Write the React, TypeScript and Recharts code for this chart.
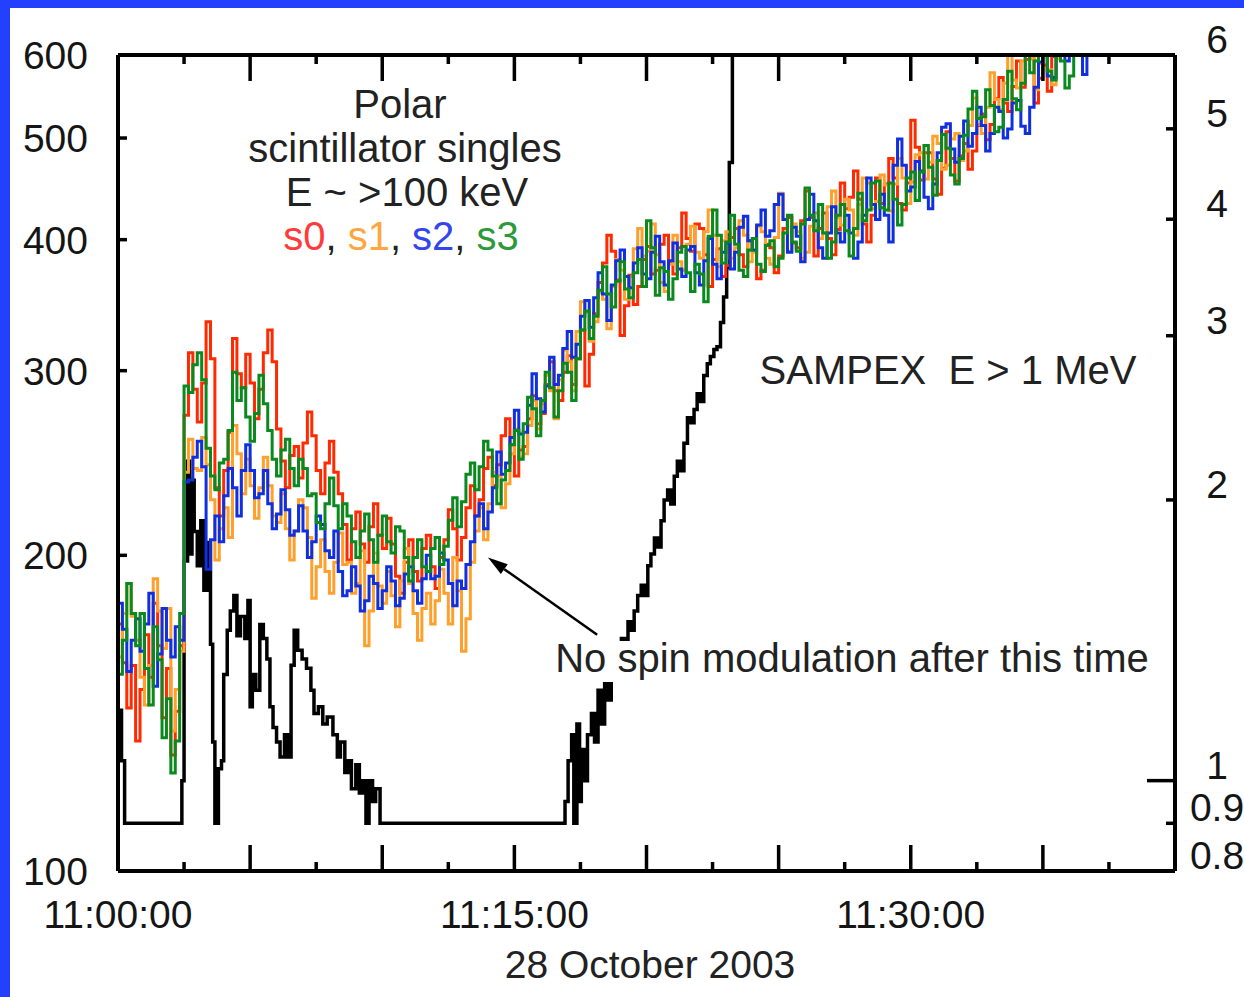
import { ComposedChart, Line, XAxis, YAxis, ReferenceLine } from "recharts";

const FONT = "'Liberation Sans', Arial, Helvetica, sans-serif";
const BLUE_FRAME = "#2440ff";

// Polar scintillator singles (counts), one sample every 10 s from 11:00:00
const POLAR_STEP_S = 10;

const s0 = [
  172, 158, 143, 157, 133, 149, 168, 153, 180, 164, 140, 156, 129, 142, 164, 272,
  312, 288, 268, 292, 334, 308, 232, 218, 241, 262, 322, 298, 289, 311, 292, 270, 288, 312,
  328, 306, 264, 246, 232, 249, 254, 237, 256, 274, 260, 241, 229, 245, 257, 240, 229, 214,
  198, 212, 220, 205, 197, 213, 224, 209, 203, 217, 205, 191, 184, 197, 207, 193, 189, 203,
  209, 195, 186, 199, 207, 221, 212, 198, 208, 222, 233, 218, 226, 242, 248, 233, 244, 260,
  270, 255, 238, 252,
  254, 270, 284, 267, 273, 291, 306, 287, 281, 299, 310, 291, 308, 328, 290, 311, 340, 364,
  380, 404, 390, 366, 324, 346, 370, 347, 361, 383, 394, 371, 374, 396, 404, 381, 371, 393,
  424, 401, 390, 414, 410, 387, 361, 383, 392, 369, 378, 402, 410, 387, 377, 399, 390, 367,
  374, 396,
  393, 372, 386, 410, 420, 397, 393, 417, 445, 420, 386, 410, 424, 401, 387, 409, 453, 428,
  439, 465, 437, 414, 398, 422, 458, 433, 452, 478, 458, 433, 427, 453, 520, 490, 456, 484,
  484, 457, 442, 468, 507, 478, 455, 481, 494, 467, 486, 514,
  527, 498, 515, 545, 571, 540, 530, 560, 592, 559, 594, 627, 540, 570, 587, 554, 598, 632,
  648, 613, 622, 658, 668, 633, 640,
];

const s1 = [
  160, 176, 188, 175, 166, 153, 144, 157, 190, 177, 163, 178, 136, 149, 162, 240,
  258, 242, 241, 259, 244, 226, 198, 212, 222, 208, 266, 250, 229, 247, 233, 217, 232, 248,
  233, 218, 215, 229, 212, 198, 211, 226, 222, 208, 182, 195, 207, 193, 184, 197, 210, 196,
  197, 184, 188, 202, 164, 177, 201, 187, 180, 193, 183, 171, 189, 203, 188, 176, 166, 178,
  184, 172, 181, 194, 184, 172, 199, 185, 162, 174, 197, 211, 222, 207, 224, 240, 238, 222,
  234, 250, 264, 248,
  250, 266, 281, 264, 279, 297, 287, 270, 294, 314, 306, 287, 327, 349, 341, 320, 334, 356,
  351, 329, 361, 383, 374, 351, 369, 392, 410, 386, 390, 414, 387, 364, 357, 379, 404, 381,
  374, 396, 412, 389, 384, 407, 427, 404, 377, 399, 407, 384, 393, 417, 404, 381, 389, 412,
  407, 384,
  379, 402, 443, 418, 390, 414, 407, 384, 389, 412, 424, 401, 406, 430, 445, 420, 413, 437,
  427, 404, 432, 458, 453, 428, 435, 461, 451, 426, 452, 478, 458, 433, 454, 482, 484, 457,
  474, 502, 494, 467, 471, 499, 505, 476, 486, 514, 546, 515,
  505, 535, 577, 544, 532, 564, 603, 568, 558, 592, 630, 595, 556, 589, 615, 581, 562, 595,
  638, 602, 622, 658, 648, 613, 640,
];

const s2 = [
  180, 170, 155, 166, 174, 162, 172, 184, 150, 161, 178, 166, 160, 171, 166, 235,
  236, 248, 257, 243, 194, 207, 218, 206, 228, 242, 232, 218, 241, 255, 241, 227, 229, 241,
  224, 212, 219, 231, 221, 209, 211, 223, 211, 199, 206, 218, 214, 202, 199, 211, 193, 183,
  185, 195, 187, 177, 181, 191, 188, 178, 185, 195, 189, 179, 182, 192, 195, 185, 180, 190,
  200, 190, 191, 201, 198, 188, 179, 189, 186, 196, 206, 218, 224, 212, 220, 232, 251, 239,
  245, 259, 275, 261,
  262, 278, 298, 282, 274, 290, 309, 291, 297, 315, 327, 309, 318, 338, 350, 330, 352, 372,
  355, 335, 362, 382, 391, 369, 360, 380, 393, 371, 367, 389, 403, 381, 362, 382, 397, 375,
  369, 391, 394, 372, 362, 382, 401, 379, 367, 389, 397, 375, 389, 411, 421, 399, 391, 413,
  427, 403,
  408, 432, 442, 418, 389, 411, 403, 381, 418, 442, 417, 393, 384, 406, 430, 406, 398, 422,
  406, 384, 398, 422, 458, 432, 418, 442, 422, 398, 471, 499, 471, 445, 449, 475, 465, 439,
  428, 452, 484, 512, 516, 488, 474, 502, 519, 491, 505, 535,
  514, 486, 505, 535, 530, 500, 510, 540, 543, 513, 505, 535, 559, 591, 607, 573, 571, 605,
  628, 592, 602, 638, 609, 575, 605,
];

const s3 = [
  154, 166, 188, 176, 164, 176, 156, 144, 171, 159, 134, 146, 124, 133, 176, 290,
  286, 304, 312, 294, 253, 238, 231, 245, 247, 263, 299, 281, 289, 271, 257, 273, 297, 279,
  263, 247, 238, 252, 258, 242, 233, 247, 242, 228, 229, 215, 212, 224, 237, 223, 212, 224,
  218, 206, 199, 211, 219, 207, 197, 209, 218, 206, 201, 213, 211, 199, 189, 199, 207, 195,
  193, 203, 208, 196, 204, 216, 227, 213, 225, 239, 245, 231, 243, 257, 252, 238, 224, 236,
  241, 255, 263, 247,
  267, 283, 276, 260, 281, 299, 289, 271, 287, 305, 299, 281, 308, 328, 342, 322, 338, 358,
  377, 355, 345, 365, 381, 359, 352, 372, 383, 361, 417, 393, 354, 376, 373, 351, 367, 389,
  394, 372, 357, 379, 371, 349, 403, 427, 404, 380, 398, 422, 396, 374, 369, 391, 401, 379,
  373, 395,
  399, 377, 384, 406, 422, 398, 390, 414, 448, 422, 408, 432, 406, 384, 398, 422, 432, 408,
  386, 410, 443, 417, 427, 453, 455, 429, 427, 453, 437, 413, 432, 458, 464, 436, 464, 492,
  469, 441, 476, 504, 489, 461, 452, 478, 503, 533, 554, 522,
  524, 556, 537, 507, 512, 544, 579, 545, 532, 564, 613, 577, 592, 628, 613, 579, 568, 602,
  592, 558, 573, 607, 612, 648, 640,
];

// SAMPEX E > 1 MeV, seconds after 11:00:00 and flux (right axis)
const sampexTime = [
  0, 8, 15, 145, 150, 158, 163, 168, 173, 180,
  188, 195, 203, 210, 215, 220, 228, 235, 240, 248,
  255, 263, 270, 278, 288, 295, 300, 305, 313, 322,
  330, 338, 345, 352, 360, 368, 378, 385, 393, 400,
  408, 418, 428, 438, 445, 455, 465, 475, 488, 498,
  505, 515, 523, 530, 540, 548, 555, 563, 570, 578,
  585, 595, 1015, 1022, 1030, 1035, 1042, 1048, 1052, 1060,
  1066, 1075, 1082, 1090, 1098, 1105, 1112, 1120, 1128, 1135,
  1143, 1150, 1158, 1165, 1172, 1180, 1188, 1195, 1203, 1210,
  1218, 1225, 1233, 1240, 1248, 1255, 1263, 1270, 1278, 1285,
  1293, 1300, 1308, 1315, 1323, 1330, 1338, 1345, 1353, 1360,
  1368, 1375, 1382, 1388, 1395,
];
const sampexFlux = [
  1.19, 1.05, 0.9, 1.0, 1.72, 2.2, 1.75, 2.1, 1.85, 1.7,
  1.9, 1.6, 1.8, 1.4, 1.1, 0.9, 1.03, 1.05, 1.3, 1.45,
  1.52, 1.58, 1.43, 1.5, 1.42, 1.56, 1.2, 1.3, 1.25, 1.47,
  1.42, 1.35, 1.2, 1.14, 1.1, 1.06, 1.12, 1.06, 1.33, 1.45,
  1.38, 1.35, 1.32, 1.25, 1.18, 1.2, 1.15, 1.17, 1.12, 1.06,
  1.1, 1.02, 1.05, 0.98, 1.04, 0.97, 1.0, 0.9, 1.0, 0.95,
  0.98, 0.9, 0.95, 1.05, 1.12, 0.9, 1.15, 0.95, 1.08, 1.0,
  1.12, 1.18, 1.1, 1.25, 1.15, 1.27, 1.22, 1.3, 1.35, 1.38,
  1.42, 1.4, 1.48, 1.45, 1.52, 1.58, 1.62, 1.58, 1.7, 1.75,
  1.82, 1.78, 1.9, 2.0, 2.05, 1.98, 2.12, 2.2, 2.15, 2.3,
  2.45, 2.42, 2.5, 2.6, 2.55, 2.72, 2.8, 2.85, 2.9, 2.92,
  3.1, 3.3, 3.55, 4.6, 9,
];

const timeTicks = [0, 150, 300, 450, 600, 750, 900, 1050, 1200, 1350, 1500, 1650, 1800, 1950, 2100, 2250, 2400];
const timeLabels: Record<number, string> = { 0: "11:00:00", 900: "11:15:00", 1800: "11:30:00" };
const countTicks = [100, 200, 300, 400, 500, 600];
const fluxTicks = [0.8, 0.9, 1, 2, 3, 4, 5, 6];

// arrow: head near the last modulated sample, tail at the note
const arrowHead = { t: 840, counts: 199 };
const arrowTail = { t: 1088, counts: 168 };

const polarData = s0.map((v, i) => ({
  t: i * POLAR_STEP_S,
  s0: v,
  s1: s1[i],
  s2: s2[i],
  s3: s3[i],
}));
const sampexData = sampexTime.map((t, i) => ({ t, flux: sampexFlux[i] }));

const series = [
  { key: "s0", color: "#ff2a00" },
  { key: "s1", color: "#ffa02c" },
  { key: "s2", color: "#1030e0" },
  { key: "s3", color: "#0a8a1e" },
];

function BottomTick(props: any) {
  const { x, y, payload } = props;
  const major = payload.value % 300 === 0;
  const label = timeLabels[payload.value];
  const edge = payload.value === 0 || payload.value === 2400;
  return (
    <g>
      {!edge && (
        <line x1={x} x2={x} y1={y} y2={y - (major ? 26 : 9)} stroke="#000" strokeWidth={3.5} />
      )}
      {label && (
        <text x={x} y={y + 57} textAnchor="middle" fontSize={39} fontFamily={FONT} fill="#151515">
          {label}
        </text>
      )}
    </g>
  );
}

function TopTick(props: any) {
  const { x, y, payload } = props;
  if (payload.value === 0 || payload.value === 2400) return <g />;
  const major = payload.value % 300 === 0;
  return <line x1={x} x2={x} y1={y} y2={y + (major ? 26 : 9)} stroke="#000" strokeWidth={3.5} />;
}

function LeftTick(props: any) {
  const { x, y, payload } = props;
  const edge = payload.value === 100 || payload.value === 600;
  return (
    <g>
      {!edge && <line x1={x} x2={x + 9} y1={y} y2={y} stroke="#000" strokeWidth={3.5} />}
      <text x={x - 30} y={y + 14} textAnchor="end" fontSize={39} fontFamily={FONT} fill="#151515">
        {payload.value}
      </text>
    </g>
  );
}

function RightTick(props: any) {
  const { x, y, payload } = props;
  const edge = payload.value === 0.8 || payload.value === 6;
  const len = payload.value === 1 ? 28 : 9;
  return (
    <g>
      {!edge && <line x1={x} x2={x - len} y1={y} y2={y} stroke="#000" strokeWidth={3.5} />}
      <text x={x + 42} y={y - 2} textAnchor="middle" fontSize={39} fontFamily={FONT} fill="#151515">
        {String(payload.value)}
      </text>
    </g>
  );
}

function ArrowShape(props: any) {
  const { x1, y1, x2, y2 } = props;
  const ang = Math.atan2(y1 - y2, x1 - x2);
  const len = 20;
  const half = 6;
  const bx = x1 - len * Math.cos(ang);
  const by = y1 - len * Math.sin(ang);
  const px = half * Math.sin(ang);
  const py = half * Math.cos(ang);
  return (
    <g>
      <line x1={bx} y1={by} x2={x2} y2={y2} stroke="#000" strokeWidth={2.5} />
      <polygon points={`${x1},${y1} ${bx + px},${by - py} ${bx - px},${by + py}`} fill="#000" />
    </g>
  );
}

const axisLine = { stroke: "#000", strokeWidth: 4 };

export default function App() {
  return (
    <div style={{ position: "absolute", left: 0, top: 0, width: 1244, height: 997, background: "#fff", overflow: "hidden" }}>
      <ComposedChart width={1244} height={997} margin={{ top: 54, right: 9, bottom: 26, left: 18 }}>
        <XAxis
          xAxisId="bottom"
          dataKey="t"
          type="number"
          domain={[0, 2400]}
          allowDataOverflow
          ticks={timeTicks}
          interval={0}
          height={100}
          axisLine={axisLine}
          tickLine={false}
          tickSize={0}
          tickMargin={0}
          tick={<BottomTick />}
        />
        <XAxis
          xAxisId="top"
          orientation="top"
          dataKey="t"
          type="number"
          domain={[0, 2400]}
          allowDataOverflow
          ticks={timeTicks}
          interval={0}
          height={1}
          axisLine={axisLine}
          tickLine={false}
          tickSize={0}
          tickMargin={0}
          tick={<TopTick />}
        />
        <YAxis
          yAxisId="left"
          type="number"
          scale="log"
          domain={[100, 600]}
          allowDataOverflow
          ticks={countTicks}
          interval={0}
          width={100}
          axisLine={axisLine}
          tickLine={false}
          tickSize={0}
          tickMargin={0}
          tick={<LeftTick />}
        />
        <YAxis
          yAxisId="right"
          orientation="right"
          type="number"
          scale="log"
          domain={[0.8, 6]}
          allowDataOverflow
          ticks={fluxTicks}
          interval={0}
          width={60}
          axisLine={axisLine}
          tickLine={false}
          tickSize={0}
          tickMargin={0}
          tick={<RightTick />}
        />
        <Line
          xAxisId="bottom"
          yAxisId="right"
          data={sampexData}
          dataKey="flux"
          type="stepAfter"
          stroke="#000"
          strokeWidth={3.5}
          strokeLinejoin="miter"
          dot={false}
          isAnimationActive={false}
        />
        {series.map((s) => (
          <Line
            key={s.key}
            xAxisId="bottom"
            yAxisId="left"
            data={polarData}
            dataKey={s.key}
            type="stepAfter"
            stroke={s.color}
            strokeWidth={3}
            strokeLinejoin="miter"
            dot={false}
            isAnimationActive={false}
          />
        ))}
        <ReferenceLine
          xAxisId="bottom"
          yAxisId="left"
          segment={[
            { x: arrowHead.t, y: arrowHead.counts },
            { x: arrowTail.t, y: arrowTail.counts },
          ]}
          shape={ArrowShape}
        />
      </ComposedChart>

      <svg
        width={1244}
        height={997}
        style={{ position: "absolute", left: 0, top: 0, pointerEvents: "none" }}
        fontFamily={FONT}
        fontSize={40}
        fill="#222"
      >
        <text x={400} y={118} textAnchor="middle">Polar</text>
        <text x={405} y={162} textAnchor="middle">scintillator singles</text>
        <text x={407} y={206} textAnchor="middle">E ~ &gt;100 keV</text>
        <text x={401} y={250} textAnchor="middle">
          <tspan fill="#ff3a3a">s0</tspan>
          <tspan>, </tspan>
          <tspan fill="#ffa640">s1</tspan>
          <tspan>, </tspan>
          <tspan fill="#3346ee">s2</tspan>
          <tspan>, </tspan>
          <tspan fill="#2a9a3a">s3</tspan>
        </text>
        <text x={948} y={384} textAnchor="middle" style={{ whiteSpace: "pre" }}>
          {"SAMPEX  E > 1 MeV"}
        </text>
        <rect x={552} y={641} width={600} height={41} fill="#fff" />
        <text x={852} y={672} textAnchor="middle">No spin modulation after this time</text>
        <text x={650} y={978} textAnchor="middle" fontSize={39}>28 October 2003</text>
      </svg>

      <div style={{ position: "absolute", left: 0, top: 0, width: 1244, height: 8, background: BLUE_FRAME }} />
      <div style={{ position: "absolute", left: 0, top: 0, width: 10, height: 997, background: BLUE_FRAME }} />
    </div>
  );
}
